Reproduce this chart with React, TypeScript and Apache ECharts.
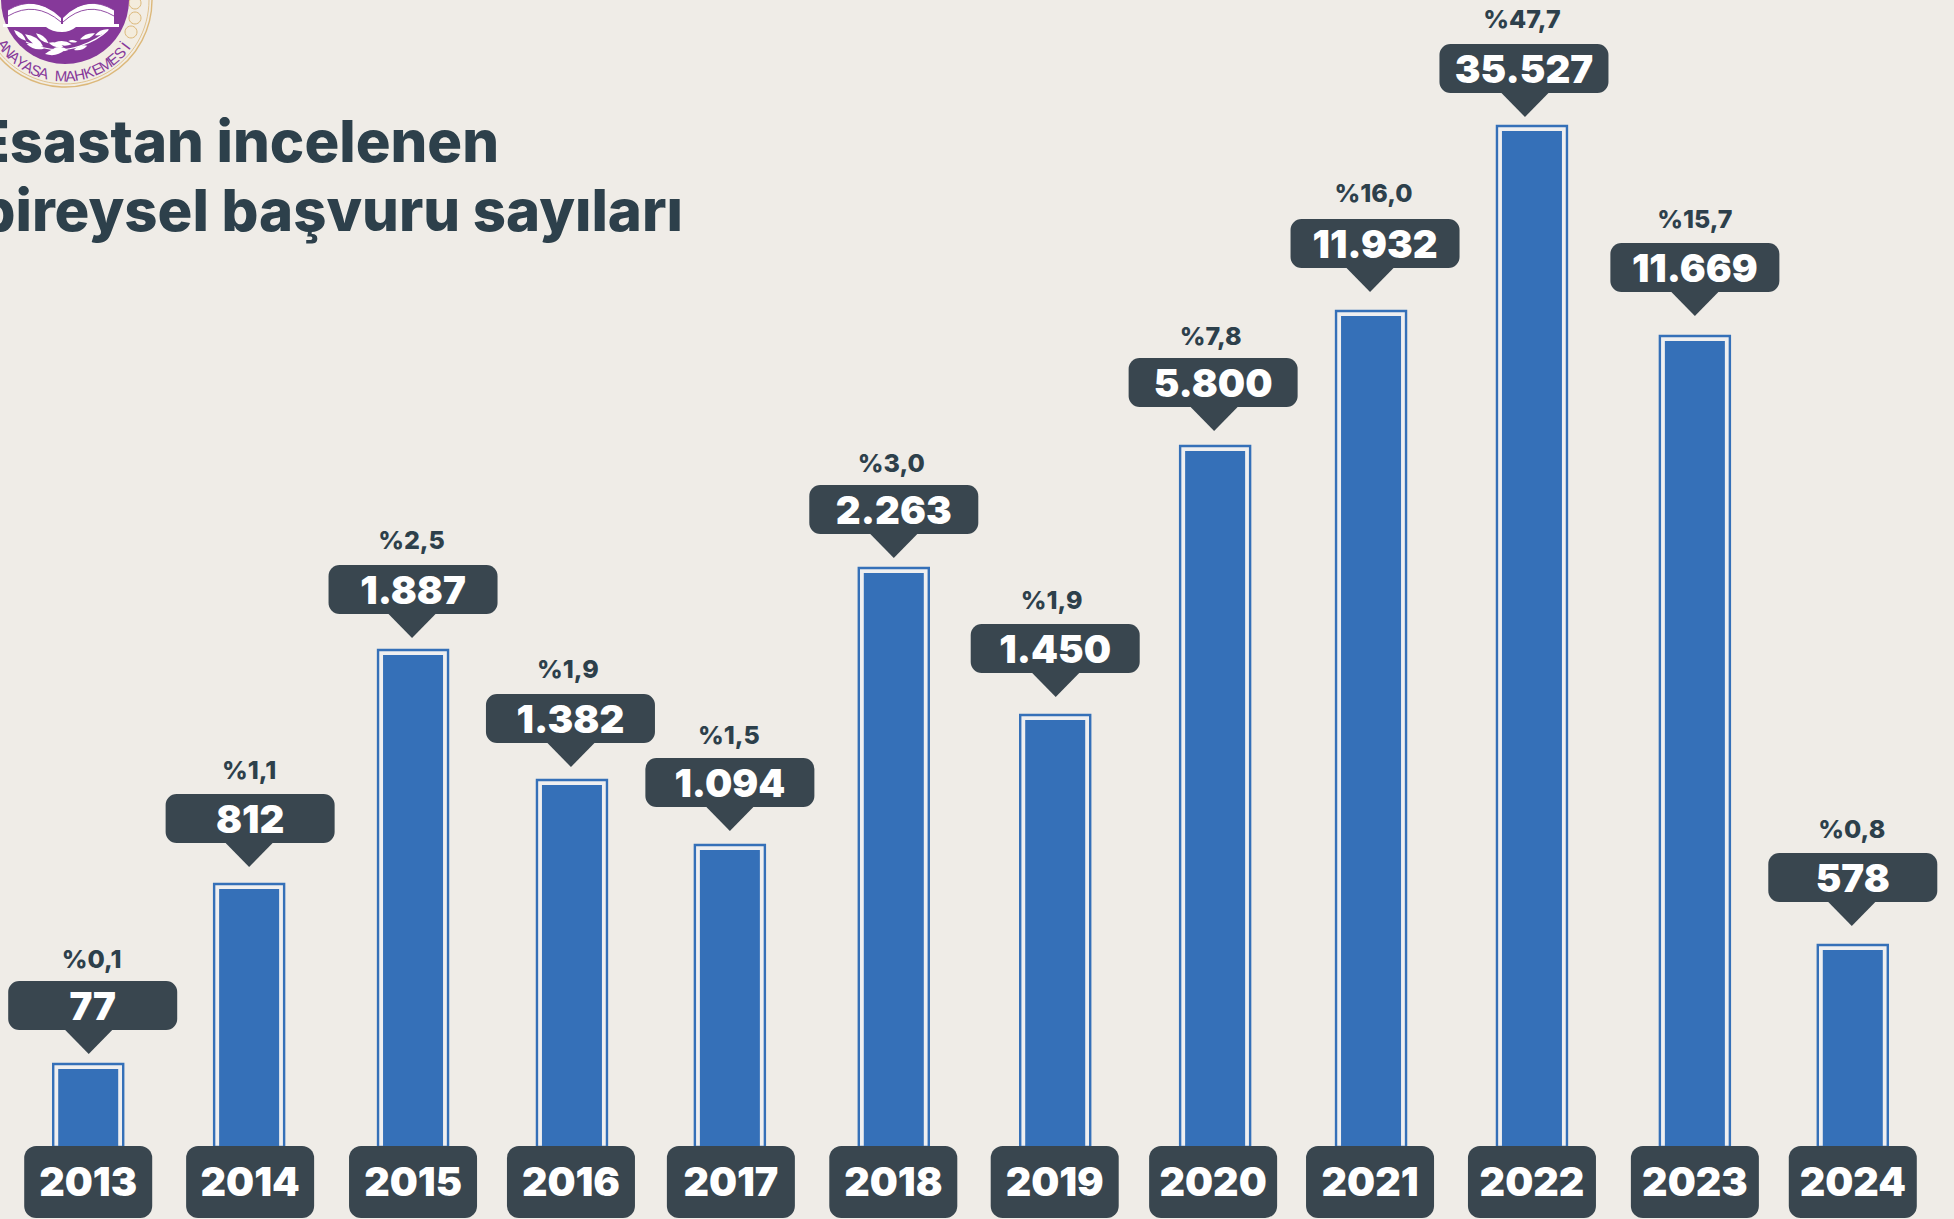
import React, { useEffect, useRef } from "react";
import * as echarts from "echarts";

// Years on the category axis
const years = ["2013","2014","2015","2016","2017","2018","2019","2020","2021","2022","2023","2024"];
// Printed number of applications
const applications = [77, 812, 1887, 1382, 1094, 2263, 1450, 5800, 11932, 35527, 11669, 578];
// Printed share, per cent
const shares = [0.1, 1.1, 2.5, 1.9, 1.5, 3.0, 1.9, 7.8, 16.0, 47.7, 15.7, 0.8];
// The infographic's bars are not to scale with the printed numbers: these are the
// bar lengths (drawn on a hidden linear axis).
const drawnBarLengths = [83, 263, 497, 367, 302, 579, 432, 701, 836, 1021, 811, 202];

// Hand-placement of the original artwork relative to the even category bands
const barDx = [0, 0.5, 4, 2.5, 0, 3.5, 4.5, 4, -0.5, 0, 2.5, 0];
const tipDx = [0.5, 0.5, 3, 1.5, 0, 3.5, 5, 3, -1.5, -7, 2.5, -1];
const bubbleDx = [4.5, 1.5, 4, 1, 0, 3.5, 4.5, 2, 3.5, -8, 2.5, 0];
const yearDx = [0, 1.5, 4, 1.5, 1, 3, 4, 2, -1.5, 0, 2.5, 0];
const tipGap = [9, 16, 11, 12, 13, 9, 17, 14, 18, 8, 19, 18];
const shareDx = [-1, -1, -1.5, -2.5, -1, -2.5, -3.5, -2.5, -1.5, -2, 0, -1];
const shareDy = [-1, 1, 2.5, 2.5, 0, -1, 1, -1, 3.5, 2.5, 1, 1];

const BG = "#efece7";
const BLUE = "#3570b8";
const DARK = "#39464f";
const INK = "#2d404b";
const FONT = "Inter";

const fmtCount = (n: number) => String(n).replace(/\B(?=(\d{3})+$)/g, ".");
const fmtShare = (n: number) => "%" + n.toFixed(1).replace(".", ",");

const renderItem = (_p: any, api: any) => {
  const i = api.value(0);
  const top = api.coord([i, api.value(1)]);
  const base = api.coord([i, 0]);
  const cx = top[0];
  const bx = cx + barDx[i];
  const tx = cx + tipDx[i];
  const mx = cx + bubbleDx[i];
  const yx = cx + yearDx[i];
  const tipY = top[1] - tipGap[i];
  const bTop = tipY - 73;
  const bBottom = bTop + 49;
  return {
    type: "group",
    children: [
      { type: "rect", shape: { x: bx - 35, y: top[1] + 1, width: 70, height: base[1] - top[1] }, style: { fill: "#efeff0", stroke: BLUE, lineWidth: 2.4 } },
      { type: "rect", shape: { x: bx - 30, y: top[1] + 6, width: 60, height: base[1] - top[1] - 6 }, style: { fill: BLUE } },
      { type: "rect", shape: { x: mx - 84.5, y: bTop, width: 169, height: 49, r: 11 }, style: { fill: DARK } },
      { type: "polygon", shape: { points: [[tx - 24.5, bBottom - 1], [tx + 24.5, bBottom - 1], [tx, tipY]] }, style: { fill: DARK } },
      { type: "text", x: mx, y: bTop + 25, style: { text: fmtCount(applications[i]), fill: "#ffffff", fontFamily: FONT, fontWeight: 900, fontSize: 38.5, textAlign: "center", textVerticalAlign: "middle" } },
      { type: "text", x: mx + shareDx[i], y: bTop - 23 - shareDy[i], style: { text: fmtShare(shares[i]), fill: INK, fontFamily: FONT, fontWeight: 800, fontSize: 25, textAlign: "center", textVerticalAlign: "middle" } },
      { type: "rect", shape: { x: yx - 64, y: base[1], width: 128, height: 72, r: 12 }, style: { fill: DARK } },
      { type: "text", x: yx, y: base[1] + 36, style: { text: years[i], fill: "#ffffff", fontFamily: FONT, fontWeight: 900, fontSize: 39.5, textAlign: "center", textVerticalAlign: "middle" } },
    ],
  };
};

const leaf = (x1: number, y1: number, x2: number, y2: number) => {
  const a = x1 / 3, b = y1 / 3, c = x2 / 3, d = y2 / 3;
  const mx = (a + c) / 2, my = (b + d) / 2, nx = (b - d) * 0.28, ny = (c - a) * 0.28;
  return `M${a} ${b}Q${mx + nx} ${my + ny} ${c} ${d}Q${mx - nx} ${my - ny} ${a} ${b}Z`;
};
const leaves = [
  [42,90,78,122],[75,103,130,140],[108,100,146,130],[80,132,132,146],[135,162,195,150],
  [146,128,190,140],[165,127,215,133],[205,123,232,125],[240,118,285,100],[285,106,327,88],
  [222,150,262,137],[160,145,205,150],
].map((l) => leaf(l[0], l[1], l[2], l[3])).join("");

echarts.graphic.registerShape("amBook", (echarts.graphic as any).extendPath("M3 24L119 24L119 27L76 27Q70 32 62 32Q52 32 46 27L3 27ZM8 24L8 10Q35 -6 61 18L61 24ZM114 24L114 10Q87 -6 63 18L63 24Z", {}));
echarts.graphic.registerShape("amLines", (echarts.graphic as any).extendPath("M8 16Q35 0 61 22M8 10Q35 -6 61 16M114 16Q87 0 63 22M114 10Q87 -6 63 16", {}));
echarts.graphic.registerShape("amBranch", (echarts.graphic as any).extendPath(leaves, {}));
echarts.graphic.registerShape("amStem", (echarts.graphic as any).extendPath("M26 42Q55 55 80 46Q98 40 108 30", {}));

const SEAL_X = 65, SEAL_Y = 0, PURPLE = "#86399a", GOLD = "#dcb87a";
const arcLetters = (word: string, start: number, step: number) =>
  word.split("").map((ch, k) => {
    const t = ((start + k * step) * Math.PI) / 180;
    return {
      type: "text", x: SEAL_X + 76 * Math.sin(t), y: SEAL_Y + 76 * Math.cos(t), rotation: t,
      style: { text: ch, fill: PURPLE, fontFamily: "Liberation Sans", fontSize: 15, textAlign: "center", textVerticalAlign: "middle" },
    };
  });

export default function App() {
  const ref = useRef<HTMLDivElement>(null);
  useEffect(() => {
    const chart = echarts.init(ref.current!, undefined, { renderer: "svg" });
    chart.setOption({
      animation: false,
      backgroundColor: BG,
      grid: { left: 8, width: 1925, top: 46, height: 1100 },
      xAxis: { type: "category", data: years, show: false },
      yAxis: { type: "value", min: 0, max: 1100, show: false },
      series: [{
        type: "custom",
        renderItem,
        clip: false,
        encode: { x: 0, y: 1 },
        data: drawnBarLengths.map((v, i) => [i, v]),
      }],
      graphic: [
        { type: "circle", shape: { cx: SEAL_X, cy: SEAL_Y, r: 87 }, style: { fill: "#f2ede4", stroke: GOLD, lineWidth: 1.4 } },
        { type: "circle", shape: { cx: SEAL_X, cy: SEAL_Y, r: 84 }, style: { fill: "none", stroke: GOLD, lineWidth: 0.8 } },
        { type: "circle", shape: { cx: 135, cy: 3, r: 6 }, style: { fill: "#f4ecdc", stroke: GOLD, lineWidth: 1 } },
        { type: "circle", shape: { cx: 135, cy: 18, r: 6 }, style: { fill: "#f4ecdc", stroke: GOLD, lineWidth: 1 } },
        { type: "circle", shape: { cx: 131, cy: 32, r: 6 }, style: { fill: "#f4ecdc", stroke: GOLD, lineWidth: 1 } },
        { type: "circle", shape: { cx: SEAL_X, cy: SEAL_Y, r: 64 }, style: { fill: PURPLE } },
        { type: "amBook", style: { fill: "#ffffff" } },
        { type: "amLines", style: { fill: "none", stroke: PURPLE, lineWidth: 0.9 } },
        { type: "amStem", style: { fill: "none", stroke: "#ffffff", lineWidth: 1.2 } },
        { type: "amBranch", style: { fill: "#ffffff" } },
        ...arcLetters("ANAYASA", -54, 6.3),
        ...arcLetters("MAHKEMESİ", -3, 7),
        { type: "text", x: 499, y: 141, style: { text: "Esastan incelenen", fill: INK, fontFamily: FONT, fontWeight: 800, fontSize: 58, textAlign: "right", textVerticalAlign: "middle" } },
        { type: "text", x: 683, y: 210, style: { text: "bireysel başvuru sayıları", fill: INK, fontFamily: FONT, fontWeight: 800, fontSize: 58, textAlign: "right", textVerticalAlign: "middle" } },
      ],
    });
    return () => chart.dispose();
  }, []);
  return <div ref={ref} style={{ position: "fixed", left: 0, top: 0, width: 1954, height: 1219 }} />;
}
